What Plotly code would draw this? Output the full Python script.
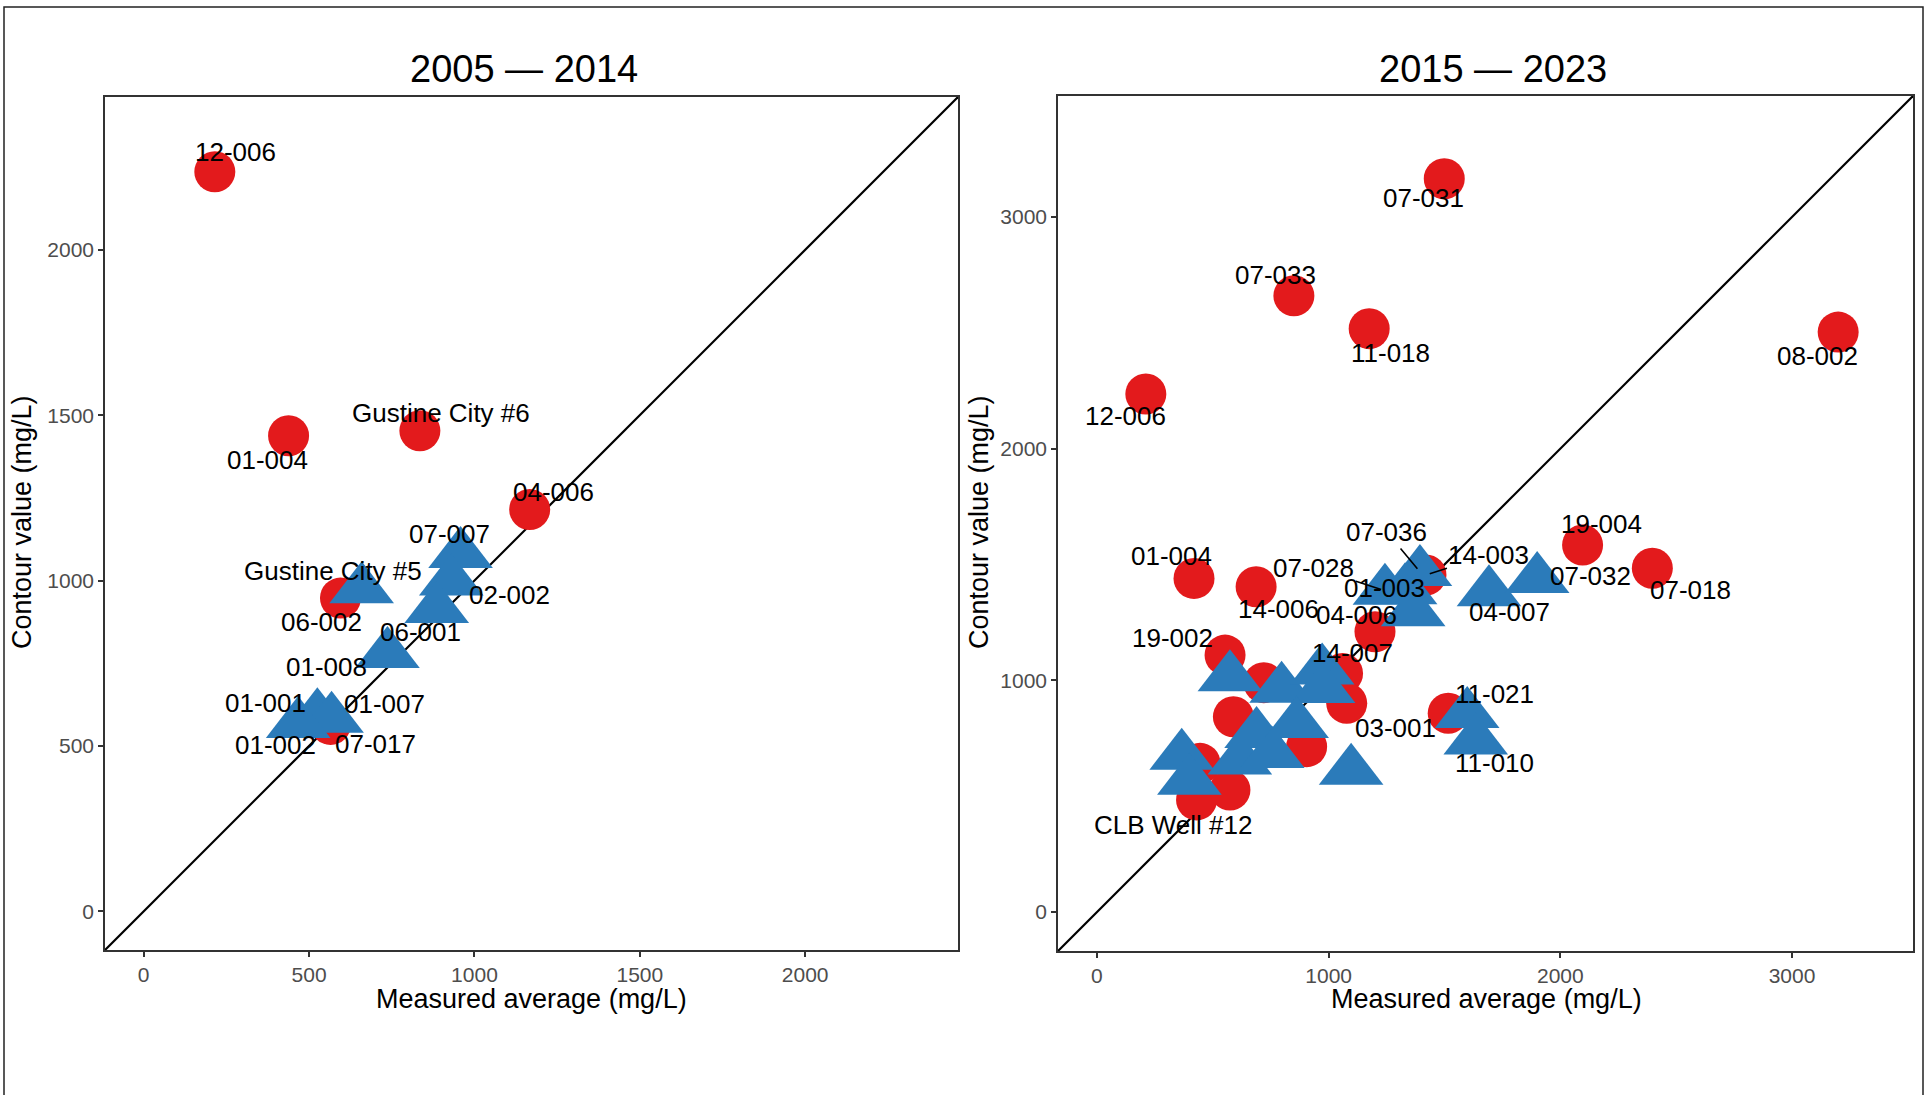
import plotly.graph_objects as go

# ---------------- data ----------------
# Panel 1: 2005 - 2014
p1_red_names = ["12-006", "01-004", "Gustine City #6", "04-006", "06-002", "07-017"]
p1_red_x = [215, 438, 835, 1167, 595, 565]
p1_red_y = [2236, 1438, 1453, 1215, 947, 565]

p1_blue_names = ["07-007", "02-002", "06-001", "Gustine City #5", "01-008", "01-001", "01-007", "01-002"]
p1_blue_x = [958, 930, 886, 659, 737, 525, 568, 467]
p1_blue_y = [1080, 997, 914, 974, 778, 593, 582, 566]

# Panel 2: 2015 - 2023
p2_red_names = ["07-031", "07-033", "11-018", "08-002", "12-006", "01-004", "14-006", "19-002",
                "04-006", "14-003", "19-004", "07-018", "03-001", "CLB Well #12", "14-007",
                "", "", "", "", "", ""]
p2_red_x = [1499, 850, 1175, 3199, 211, 419, 687, 553, 1200, 1420, 2096, 2397, 1516, 430, 1060,
            720, 589, 905, 1078, 445, 574]
p2_red_y = [3165, 2660, 2518, 2503, 2236, 1440, 1404, 1109, 1210, 1455, 1584, 1484, 858, 484, 1030,
            990, 843, 714, 901, 642, 527]

p2_blue_names = ["", "", "", "", "", "", "", "", "", "", "", "11-021", "11-010",
                 "07-028", "01-003", "07-036", "", "04-007", "07-032"]
p2_blue_x = [574, 797, 972, 976, 617, 757, 689, 862, 366, 399, 1097, 1598, 1635,
             1243, 1330, 1394, 1365, 1692, 1900]
p2_blue_y = [1013, 964, 1043, 963, 654, 682, 768, 812, 675, 567, 610, 855, 740,
             1387, 1389, 1468, 1294, 1380, 1437]

titles = ["2005 \u2014 2014", "2015 \u2014 2023"]
x_title = "Measured average (mg/L)"
y_title = "Contour value (mg/L)"
p1_ticks = [0, 500, 1000, 1500, 2000]
p2_ticks = [0, 1000, 2000, 3000]
p1_range = [-117, 2462]
p2_range = [-168, 3522]

# ---------------- label placement (pixel offsets, [dx, dy, leader]) ----------------
p1_label_offsets = {
    "12-006": (21, -20, False), "01-004": (-21, 24, False), "Gustine City #6": (21, -18, False),
    "04-006": (24, -17, False), "06-002": (-19, 24, False), "07-017": (45, 20, False),
    "07-007": (-11, -20, False), "02-002": (58, 13, False), "06-001": (-16, 23, False),
    "Gustine City #5": (-29, -18, False), "01-008": (-61, 13, False), "01-001": (-52, -12, False),
    "01-007": (53, -15, False), "01-002": (-23, 21, False),
}
p2_label_offsets = {
    "07-031": (-21, 19, False), "07-033": (-18, -21, False), "11-018": (21, 24, False),
    "08-002": (-21, 24, False), "12-006": (-20, 22, False), "01-004": (-23, -22, False),
    "14-006": (22, 22, False), "19-002": (-53, -17, False), "04-006": (-18, -17, False),
    "14-003": (63, -20, True), "19-004": (19, -21, False), "07-018": (38, 22, False),
    "03-001": (-53, 15, False), "CLB Well #12": (-23, 25, False), "14-007": (10, -20, False),
    "11-021": (27, -20, False), "11-010": (19, 22, False), "07-028": (-71, -23, True),
    "01-003": (-21, -2, False), "07-036": (-33, -40, True), "04-007": (21, 20, False),
    "07-032": (53, -3, False),
}

RED = "#E31A1C"
BLUE = "#2B7BBA"
FONT = "Liberation Sans, Arial, sans-serif"
W, H = 1925, 1095

fig = go.Figure()

panels = [
    dict(xa="x", ya="y", rng=p1_range, rx=p1_red_x, ry=p1_red_y, rn=p1_red_names,
         bx=p1_blue_x, by=p1_blue_y, bn=p1_blue_names, offs=p1_label_offsets),
    dict(xa="x2", ya="y2", rng=p2_range, rx=p2_red_x, ry=p2_red_y, rn=p2_red_names,
         bx=p2_blue_x, by=p2_blue_y, bn=p2_blue_names, offs=p2_label_offsets),
]

annotations = []
for p in panels:
    fig.add_trace(go.Scatter(x=p["rng"], y=p["rng"], mode="lines", xaxis=p["xa"], yaxis=p["ya"],
                             line=dict(color="black", width=2.2), hoverinfo="skip"))
    fig.add_trace(go.Scatter(x=p["rx"], y=p["ry"], mode="markers", xaxis=p["xa"], yaxis=p["ya"],
                             text=p["rn"], marker=dict(symbol="circle", size=41, color=RED)))
    fig.add_trace(go.Scatter(x=p["bx"], y=p["by"], mode="markers", xaxis=p["xa"], yaxis=p["ya"],
                             text=p["bn"], marker=dict(symbol="triangle-up", size=56, color=BLUE)))
    for names, xs, ys in ((p["rn"], p["rx"], p["ry"]), (p["bn"], p["bx"], p["by"])):
        for n, xv, yv in zip(names, xs, ys):
            if not n or n not in p["offs"]:
                continue
            dx, dy, leader = p["offs"][n]
            annotations.append(dict(
                x=xv, y=yv, xref=p["xa"], yref=p["ya"], text=n, showarrow=True,
                ax=dx, ay=dy, arrowhead=0, arrowwidth=1.6, standoff=4,
                arrowcolor="black" if leader else "rgba(0,0,0,0)",
                font=dict(family=FONT, size=26, color="black")))

# titles
for txt, cx in zip(titles, [524, 1493]):
    annotations.append(dict(text=txt, x=cx / W, y=1 - 69 / H, xref="paper", yref="paper",
                            showarrow=False, xanchor="center", yanchor="middle",
                            font=dict(family=FONT, size=38, color="black")))
for cx in [531, 1486]:
    annotations.append(dict(text=x_title, x=cx / W, y=1 - 999 / H, xref="paper", yref="paper",
                            showarrow=False, xanchor="center", yanchor="middle",
                            font=dict(family=FONT, size=27, color="black")))
for cx in [22, 979]:
    annotations.append(dict(text=y_title, x=cx / W, y=1 - 522 / H, xref="paper", yref="paper",
                            showarrow=False, xanchor="center", yanchor="middle", textangle=-90,
                            font=dict(family=FONT, size=27, color="black")))

axis_common = dict(showline=True, mirror=True, linecolor="#333333", linewidth=1.5,
                   ticks="outside", ticklen=5, tickwidth=1.5, tickcolor="#333333",
                   tickfont=dict(family=FONT, size=21, color="#4D4D4D"),
                   showgrid=False, zeroline=False, fixedrange=True)

fig.update_layout(
    width=W, height=H, autosize=False,
    margin=dict(l=0, r=0, t=0, b=0),
    paper_bgcolor="white", plot_bgcolor="white", showlegend=False,
    xaxis=dict(domain=[105 / W, 958 / W], range=p1_range, tickvals=p1_ticks, anchor="y", **axis_common),
    yaxis=dict(domain=[1 - 950 / H, 1 - 97 / H], range=p1_range, tickvals=p1_ticks, anchor="x", **axis_common),
    xaxis2=dict(domain=[1058 / W, 1913 / W], range=p2_range, tickvals=p2_ticks, anchor="y2", **axis_common),
    yaxis2=dict(domain=[1 - 951 / H, 1 - 96 / H], range=p2_range, tickvals=p2_ticks, anchor="x2", **axis_common),
    annotations=annotations,
    shapes=[dict(type="rect", xref="paper", yref="paper", x0=4 / W, x1=1923 / W,
                 y0=-0.2, y1=1 - 7 / H, line=dict(color="#222222", width=1.5))],
)

fig.write_html("out.html",
               config={"displayModeBar": False},
               post_script="document.body.style.margin='0';document.body.style.overflow='hidden';")
